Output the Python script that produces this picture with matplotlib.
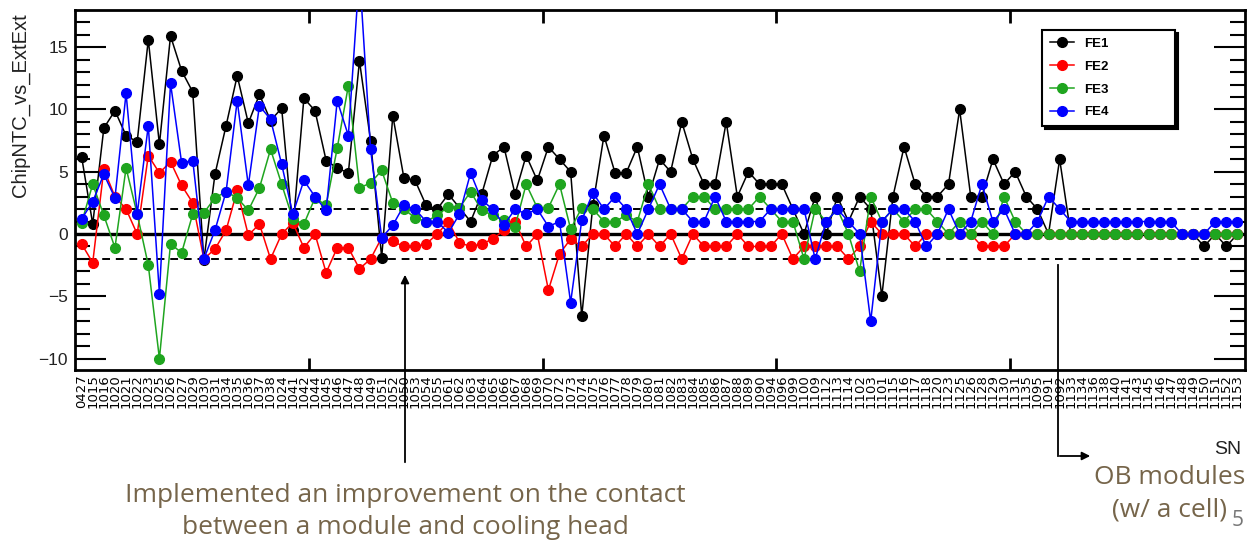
import numpy as np
import matplotlib
matplotlib.use("Agg")
import matplotlib.pyplot as plt
from matplotlib.lines import Line2D

# serial numbers of the modules, in plotting order
sn = ["0427", "1015", "1016", "1020", "1021", "1022", "1023", "1025", "1026", "1027",
      "1029", "1030", "1031", "1034", "1035", "1036", "1037", "1038", "1024", "1041",
      "1042", "1044", "1045", "1046", "1047", "1048", "1049", "1051", "1052", "1050",
      "1053", "1054", "1055", "1061", "1062", "1063", "1064", "1065", "1066", "1067",
      "1068", "1069", "1070", "1072", "1073", "1074", "1075", "1076", "1077", "1078",
      "1079", "1080", "1081", "1082", "1083", "1084", "1085", "1086", "1087", "1088",
      "1089", "1090", "1094", "1096", "1099", "1100", "1109", "1112", "1113", "1114",
      "1102", "1103", "1101", "1115", "1116", "1117", "1118", "1120", "1123", "1125",
      "1126", "1128", "1129", "1130", "1131", "1135", "1095", "1091", "1092", "1133",
      "1134", "1136", "1138", "1140", "1141", "1143", "1145", "1146", "1147", "1148",
      "1149", "1150", "1151", "1152", "1153"]

fe1 = [6.2, 0.8, 8.5, 9.9, 7.9, 7.4, 15.6, 7.2, 15.9, 13.1,
       11.4, -2.1, 4.8, 8.7, 12.7, 8.9, 11.2, 9.1, 10.1, 0.3,
       10.9, 9.9, 5.9, 5.3, 4.9, 13.9, 7.5, -1.9, 9.5, 4.5,
       4.3, 2.3, 2.0, 3.2, 2.1, 1.0, 3.2, 6.3, 7.0, 3.2,
       6.3, 4.3, 7.0, 6.0, 5.0, -6.6, 2.3, 7.9, 4.9, 4.9,
       7.0, 3.0, 6.0, 5.0, 9.0, 6.0, 4, 4, 9, 3,
       5, 4, 4, 4, 2, 0, 3, 0, 3, 1,
       3, 2, -5, 3, 7, 4, 3, 3, 4, 10,
       3, 3, 6, 4, 5, 3, 2, 0, 6, 0,
       0, 0, 0, 0, 0, 0, 0, 0, 0, 0,
       0, -1, 0, -1, 0]

fe2 = [-0.8, -2.3, 5.2, 3.0, 2.0, 0.0, 6.3, 4.9, 5.8, 3.9,
       2.5, -2.0, -1.2, 0.3, 3.5, -0.1, 0.8, -2.0, 0.0, 0.9,
       -1.1, 0.0, -3.1, -1.1, -1.1, -2.8, -2.0, -0.3, -0.6, -1.0,
       -1.0, -0.8, 0.0, 1.0, -0.7, -1.0, -0.8, -0.4, 0.3, 1.0,
       -1.0, 0.0, -4.5, -1.6, -0.4, -1.0, 0.0, 0, -1, 0,
       -1, 0, -1, 0, -2, 0, -1, -1, -1, 0,
       -1, -1, -1, 0, -2, -1, -1, -1, -1, -2,
       -1, 1, 0, 0, 0, -1, 0, 0, 0, 0,
       0, -1, -1, -1, 0, 0, 0, 0, 0, 0,
       0, 0, 0, 0, 0, 0, 0, 0, 0, 0,
       0, 0, 0, 0, 0]

fe3 = [0.9, 4.0, 1.5, -1.1, 5.3, 1.6, -2.5, -10.0, -0.8, -1.5,
       1.6, 1.7, 2.9, 3.4, 2.9, 1.9, 3.7, 6.8, 4.0, 1.2,
       0.8, 2.9, 2.3, 6.9, 11.9, 3.7, 4.1, 5.1, 2.5, 2.0,
       1.3, 1.0, 1.5, 2.2, 2.1, 3.4, 1.9, 1.5, 1.1, 0.6,
       4.0, 2.1, 2.1, 4.0, 0.4, 2.1, 2.0, 1, 1, 1.5,
       1, 4, 2, 2, 2, 3, 3, 2, 2, 2,
       2, 3, 2, 1, 1, -2, 2, 1, 2, 0,
       -3, 3, 1, 2, 1, 2, 2, 1, 0, 1,
       0, 1, 0, 3, 1, 0, 0, 0, 0, 0,
       0, 0, 0, 0, 0, 0, 0, 0, 0, 0,
       0, 0, 0, 0, 0]

fe4 = [1.2, 2.6, 4.8, 2.9, 11.3, 1.6, 8.7, -4.8, 12.1, 5.7,
       5.9, -2.0, 0.3, 3.4, 10.7, 3.9, 10.3, 9.2, 5.6, 1.6,
       4.3, 3.0, 1.9, 10.7, 7.9, 21.0, 6.8, -0.3, 0.7, 2.3,
       2.0, 1.0, 1.0, 0.1, 1.6, 4.9, 2.7, 2.0, 0.7, 2.0,
       1.6, 2.0, 0.6, 1.0, -5.5, 1.1, 3.3, 2, 3, 2,
       0, 2, 4, 2, 2, 1, 1, 3, 1, 1,
       1, 1, 2, 2, 2, 2, -2, 1, 2, 1,
       0, -7, 1, 2, 2, 1, -1, 0, 2, 0,
       1, 4, 1, 2, 0, 0, 1, 3, 2, 1,
       1, 1, 1, 1, 1, 1, 1, 1, 1, 0,
       0, 0, 1, 1, 1]

names = ["FE1", "FE2", "FE3", "FE4"]
clrs = ["black", "#ff0000", "#1fa51f", "#0000ff"]

fig = plt.figure(figsize=(12.49, 5.43), dpi=100)
ax = fig.add_axes([0.060, 0.319, 0.937, 0.663])

x = np.arange(len(sn))

ax.axhline(0, color="black", lw=2.4, zorder=1)
ax.axhline(2, color="black", lw=1.4, ls=(0, (4, 3)), zorder=1)
ax.axhline(-2, color="black", lw=1.4, ls=(0, (4, 3)), zorder=1)

for vals, name, c in zip([fe1, fe2, fe3, fe4], names, clrs):
    ax.plot(x, vals, color=c, lw=1.1, marker="o", ms=7, label=name, zorder=3)

ax.set_xlim(-0.6, 104.7)
ax.set_ylim(-10.9, 18)

ax.set_xticks(x)
ax.set_xticklabels(sn, rotation=90, fontsize=9.5, family="DejaVu Sans")
ax.tick_params(axis="x", which="major", length=0, pad=3)
ax.set_xticks([20.5, 41.5, 62.5, 83.5], minor=True)
ax.tick_params(axis="x", which="minor", direction="in", length=9, width=2,
               top=True, bottom=True)

ax.set_yticks([-10, -5, 0, 5, 10, 15])
ax.set_yticks(np.arange(-10, 18, 1), minor=True)
ax.tick_params(axis="y", which="major", direction="in", length=22, width=1.5,
               left=True, right=True, labelsize=12.5, pad=5)
ax.tick_params(axis="y", which="minor", direction="in", length=11, width=1.5,
               left=True, right=True)
for lab in ax.get_yticklabels():
    lab.set_family("Liberation Sans")
    lab.set_color("#222222")

for s in ax.spines.values():
    s.set_linewidth(2)

leg = ax.legend(loc="upper left", bbox_to_anchor=(0.8265, 0.5, 0.1137, 0.444),
                mode="expand", borderaxespad=0, fancybox=False,
                shadow={"color": "black", "alpha": 1},
                edgecolor="black", framealpha=1, handlelength=1.8,
                labelspacing=0.8, borderpad=0.6,
                prop={"family": "Liberation Sans", "weight": "bold", "size": 9.5})
leg.get_frame().set_linewidth(1.5)

fig.text(20, 530, "ChipNTC_vs_ExtExt", transform=None, rotation=90,
         ha="center", va="top", fontsize=14.5, family="Liberation Sans", color="#222222")
fig.text(1241, 93, "SN", transform=None, ha="right", va="center",
         fontsize=14, family="Liberation Sans", color="#222222")

# annotations under the plot
ax.annotate("", xy=(405, 271), xytext=(405, 78), xycoords="figure pixels",
            textcoords="figure pixels", annotation_clip=False,
            arrowprops=dict(arrowstyle="-|>", color="black", lw=1.3, mutation_scale=12))
brown = "#76654a"
fig.text(405, 48, "Implemented an improvement on the contact", transform=None,
         ha="center", va="center", fontsize=19, family="Open Sans", color=brown)
fig.text(405, 16, "between a module and cooling head", transform=None,
         ha="center", va="center", fontsize=19, family="Open Sans", color=brown)

fig.add_artist(Line2D([1058, 1058], [278, 87], transform=None, color="black", lw=1.3))
ax.annotate("", xy=(1093, 87), xytext=(1057, 87), xycoords="figure pixels",
            textcoords="figure pixels", annotation_clip=False,
            arrowprops=dict(arrowstyle="-|>", color="black", lw=1.3, mutation_scale=12))
fig.text(1170, 65, "OB modules", transform=None, ha="center", va="center",
         fontsize=19, family="Open Sans", color=brown)
fig.text(1170, 33, "(w/ a cell)", transform=None, ha="center", va="center",
         fontsize=19, family="Open Sans", color=brown)
fig.text(1238, 23, "5", transform=None, ha="center", va="center",
         fontsize=15, family="Open Sans", color="#777777")

fig.savefig("out.png", dpi=100)
